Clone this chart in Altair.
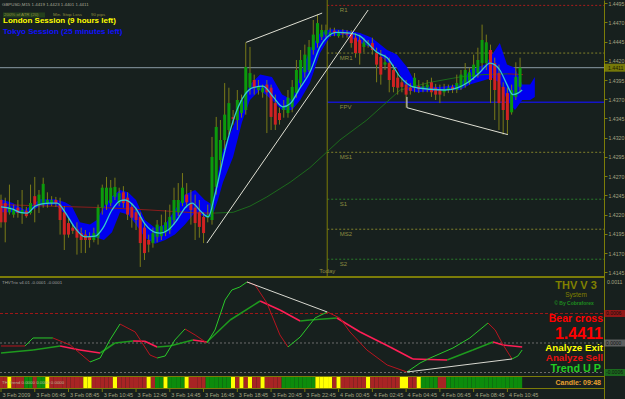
import altair as alt
import pandas as pd

# ---------------- GBPUSD M15 price bars ----------------
bar_open = [1.4239, 1.4235, 1.4223, 1.4220, 1.4229, 1.4221, 1.4225, 1.4222, 1.4244, 1.4233,
            1.4233, 1.4234, 1.4235, 1.4239, 1.4233, 1.4223, 1.4209, 1.4203, 1.4201, 1.4196,
            1.4194, 1.4192, 1.4187, 1.4190, 1.4229, 1.4233, 1.4235, 1.4243, 1.4235, 1.4249,
            1.4242, 1.4230, 1.4223, 1.4217, 1.4203, 1.4187, 1.4183, 1.4191, 1.4192, 1.4197,
            1.4200, 1.4213, 1.4223, 1.4235, 1.4246, 1.4235, 1.4229, 1.4223, 1.4217, 1.4216,
            1.4213, 1.4256, 1.4291, 1.4317, 1.4330, 1.4347, 1.4343, 1.4352, 1.4356, 1.4385,
            1.4395, 1.4382, 1.4379, 1.4389, 1.4385, 1.4365, 1.4352, 1.4356, 1.4352, 1.4360,
            1.4378, 1.4391, 1.4405, 1.4408, 1.4434, 1.4443, 1.4451, 1.4454, 1.4454, 1.4459,
            1.4452, 1.4457, 1.4456, 1.4456, 1.4450, 1.4447, 1.4438, 1.4441, 1.4443, 1.4430,
            1.4425, 1.4415, 1.4417, 1.4408, 1.4398, 1.4392, 1.4389, 1.4385, 1.4386, 1.4387,
            1.4385, 1.4385, 1.4392, 1.4385, 1.4382, 1.4379, 1.4382, 1.4386, 1.4382, 1.4385,
            1.4389, 1.4392, 1.4399, 1.4404, 1.4417, 1.4417, 1.4434, 1.4417, 1.4404, 1.4386,
            1.4378, 1.4353, 1.4373, 1.4386]
bar_close = [1.4210, 1.4210, 1.4230, 1.4226, 1.4222, 1.4226, 1.4218, 1.4235, 1.4233, 1.4246,
             1.4260, 1.4239, 1.4239, 1.4235, 1.4213, 1.4194, 1.4194, 1.4199, 1.4190, 1.4187,
             1.4187, 1.4187, 1.4196, 1.4229, 1.4255, 1.4255, 1.4255, 1.4256, 1.4248, 1.4235,
             1.4220, 1.4216, 1.4213, 1.4183, 1.4170, 1.4181, 1.4196, 1.4207, 1.4205, 1.4210,
             1.4217, 1.4239, 1.4239, 1.4255, 1.4236, 1.4226, 1.4209, 1.4204, 1.4196, 1.4220,
             1.4295, 1.4334, 1.4317, 1.4350, 1.4365, 1.4344, 1.4369, 1.4369, 1.4412, 1.4404,
             1.4385, 1.4386, 1.4385, 1.4379, 1.4347, 1.4337, 1.4343, 1.4360, 1.4372, 1.4386,
             1.4408, 1.4421, 1.4428, 1.4438, 1.4454, 1.4469, 1.4460, 1.4460, 1.4457, 1.4456,
             1.4456, 1.4455, 1.4454, 1.4443, 1.4430, 1.4430, 1.4444, 1.4443, 1.4434, 1.4415,
             1.4402, 1.4418, 1.4395, 1.4386, 1.4385, 1.4386, 1.4376, 1.4381, 1.4398, 1.4383,
             1.4387, 1.4389, 1.4379, 1.4376, 1.4376, 1.4383, 1.4385, 1.4382, 1.4391, 1.4402,
             1.4408, 1.4405, 1.4415, 1.4421, 1.4447, 1.4444, 1.4395, 1.4382, 1.4365, 1.4356,
             1.4343, 1.4382, 1.4399, 1.4411]
bar_high = [1.4246, 1.4242, 1.4259, 1.4233, 1.4239, 1.4252, 1.4230, 1.4259, 1.4269, 1.4252,
            1.4268, 1.4249, 1.4244, 1.4243, 1.4242, 1.4231, 1.4216, 1.4207, 1.4210, 1.4203,
            1.4200, 1.4197, 1.4203, 1.4233, 1.4259, 1.4269, 1.4265, 1.4268, 1.4255, 1.4257,
            1.4249, 1.4235, 1.4229, 1.4223, 1.4208, 1.4194, 1.4203, 1.4213, 1.4220, 1.4226,
            1.4233, 1.4255, 1.4261, 1.4274, 1.4261, 1.4252, 1.4246, 1.4239, 1.4223, 1.4233,
            1.4321, 1.4347, 1.4343, 1.4391, 1.4385, 1.4356, 1.4382, 1.4376, 1.4444, 1.4438,
            1.4402, 1.4395, 1.4389, 1.4395, 1.4389, 1.4376, 1.4359, 1.4369, 1.4382, 1.4395,
            1.4421, 1.4434, 1.4441, 1.4447, 1.4473, 1.4480, 1.4467, 1.4467, 1.4463, 1.4463,
            1.4460, 1.4461, 1.4460, 1.4460, 1.4456, 1.4454, 1.4450, 1.4447, 1.4450, 1.4437,
            1.4434, 1.4428, 1.4424, 1.4415, 1.4405, 1.4398, 1.4395, 1.4391, 1.4404, 1.4395,
            1.4392, 1.4395, 1.4398, 1.4390, 1.4389, 1.4390, 1.4389, 1.4389, 1.4402, 1.4408,
            1.4417, 1.4411, 1.4428, 1.4437, 1.4467, 1.4454, 1.4441, 1.4424, 1.4415, 1.4392,
            1.4385, 1.4389, 1.4418, 1.4424]
bar_low = [1.4203, 1.4184, 1.4220, 1.4216, 1.4216, 1.4208, 1.4216, 1.4220, 1.4210, 1.4222,
           1.4229, 1.4229, 1.4231, 1.4230, 1.4194, 1.4174, 1.4190, 1.4195, 1.4168, 1.4170,
           1.4170, 1.4177, 1.4184, 1.4181, 1.4220, 1.4226, 1.4231, 1.4239, 1.4231, 1.4229,
           1.4213, 1.4203, 1.4200, 1.4152, 1.4161, 1.4171, 1.4177, 1.4184, 1.4187, 1.4192,
           1.4195, 1.4207, 1.4218, 1.4231, 1.4229, 1.4207, 1.4187, 1.4190, 1.4183, 1.4210,
           1.4207, 1.4246, 1.4278, 1.4304, 1.4324, 1.4337, 1.4330, 1.4346, 1.4350, 1.4376,
           1.4376, 1.4376, 1.4372, 1.4326, 1.4330, 1.4330, 1.4337, 1.4346, 1.4346, 1.4353,
           1.4372, 1.4385, 1.4398, 1.4405, 1.4428, 1.4437, 1.4447, 1.4450, 1.4451, 1.4452,
           1.4450, 1.4450, 1.4450, 1.4437, 1.4424, 1.4415, 1.4431, 1.4437, 1.4428, 1.4392,
           1.4389, 1.4408, 1.4379, 1.4379, 1.4376, 1.4379, 1.4359, 1.4376, 1.4379, 1.4378,
           1.4379, 1.4379, 1.4373, 1.4369, 1.4365, 1.4374, 1.4378, 1.4378, 1.4378, 1.4382,
           1.4385, 1.4389, 1.4395, 1.4398, 1.4408, 1.4408, 1.4365, 1.4343, 1.4330, 1.4324,
           1.4324, 1.4350, 1.4369, 1.4379]

# cyan smoothed average (bar position, price)
cyan_pos = [0, 2.8, 4.5, 6.2, 8.1, 9.7, 11.6, 13.3, 15.2, 17.5, 19.9, 22.3, 24.2, 26.3, 28.2,
            29.4, 31.8, 34.1, 36.5, 37.7, 39.6, 41.7, 43.8, 45.3, 47.2, 49.1, 50.7, 53.1, 55.5,
            57.8, 59.7, 62.1, 64.5, 66.8, 68.5, 70.9, 73.2, 75.6, 77.3, 79.6, 82.7, 85.1, 86.7,
            89.1, 91.5, 94.6, 97.6, 101.7, 105.2, 108.3, 110.4, 113.5, 115.9, 118.2, 119.9,
            121.3, 122.5, 123.5]
cyan_price = [1.4230, 1.4227, 1.4223, 1.4222, 1.4231, 1.4234, 1.4235, 1.4235, 1.4223, 1.4203,
              1.4191, 1.4192, 1.4203, 1.4226, 1.4238, 1.4239, 1.4229, 1.4208, 1.4197, 1.4196,
              1.4200, 1.4213, 1.4230, 1.4235, 1.4225, 1.4217, 1.4246, 1.4304, 1.4350, 1.4376,
              1.4385, 1.4387, 1.4373, 1.4360, 1.4364, 1.4385, 1.4405, 1.4438, 1.4451, 1.4457,
              1.4456, 1.4452, 1.4444, 1.4431, 1.4424, 1.4399, 1.4386, 1.4383, 1.4382, 1.4385,
              1.4391, 1.4405, 1.4417, 1.4408, 1.4389, 1.4376, 1.4378, 1.4382]

# blue band (bar position, upper, lower)
band_pos = [0, 2.8, 5.7, 9.2, 12.8, 15.2, 16.8, 18.7, 21.1, 22.7, 24.4, 26.3, 28.2, 30.1, 32,
            34.1, 36.5, 38.9, 41.2, 43.6, 46, 48.3, 50, 51.4, 52.6, 55, 57.1, 59, 61.4, 64.2,
            66.6, 69, 70.9, 73.2, 75.6, 78, 81.5, 85.1, 87.9, 91.5, 93.8, 96.2, 98.6, 104,
            108.8, 111.1, 114.7, 116.4, 118.2, 119.9, 121.8, 123.5, 125.4, 126.5]
band_upper = [1.4240, 1.4235, 1.4226, 1.4240, 1.4240, 1.4236, 1.4231, 1.4210, 1.4207, 1.4213,
              1.4231, 1.4244, 1.4252, 1.4249, 1.4239, 1.4213, 1.4203, 1.4207, 1.4226, 1.4246,
              1.4252, 1.4239, 1.4233, 1.4272, 1.4304, 1.4334, 1.4363, 1.4389, 1.4402, 1.4399,
              1.4376, 1.4369, 1.4402, 1.4434, 1.4456, 1.4461, 1.4460, 1.4456, 1.4450, 1.4434,
              1.4428, 1.4412, 1.4387, 1.4386, 1.4389, 1.4408, 1.4415, 1.4428, 1.4443, 1.4415,
              1.4411, 1.4389, 1.4389, 1.4399]
band_lower = [1.4223, 1.4223, 1.4221, 1.4231, 1.4233, 1.4220, 1.4207, 1.4195, 1.4190, 1.4190,
              1.4187, 1.4197, 1.4223, 1.4220, 1.4207, 1.4190, 1.4182, 1.4187, 1.4194, 1.4207,
              1.4223, 1.4217, 1.4217, 1.4239, 1.4262, 1.4295, 1.4340, 1.4369, 1.4382, 1.4369,
              1.4356, 1.4356, 1.4369, 1.4391, 1.4430, 1.4452, 1.4454, 1.4443, 1.4437, 1.4418,
              1.4411, 1.4382, 1.4379, 1.4381, 1.4382, 1.4389, 1.4395, 1.4398, 1.4391, 1.4369,
              1.4356, 1.4369, 1.4369, 1.4373]

# long moving average (bar position, price)
long_ma_pos = [0, 11.6, 24.6, 35.3, 47.2, 50.7, 55, 59, 63, 68.5, 73.2, 80.3, 86.7, 94.6,
               101.7, 108.8, 114.2, 120.1, 123.7]
long_ma_price = [1.4233, 1.4231, 1.4229, 1.4226, 1.4222, 1.4222, 1.4223, 1.4231, 1.4243, 1.4262,
                 1.4281, 1.4317, 1.4343, 1.4382, 1.4392, 1.4399, 1.4402, 1.4403, 1.4402]

# daily pivots
pivot_names = ["R1", "MR1", "FPV", "MS1", "S1", "MS2", "S2"]
pivot_prices = [1.4492, 1.4430, 1.4366, 1.4301, 1.4240, 1.4201, 1.4162]
pivot_styles = ["red", "olive", "blue", "olive", "green", "olive", "green"]
today_pos = 77.3
pivot_label_pos = 80.3
current_price = 1.4411

# hand-drawn trend lines
trend_line_id = ["a", "a", "b", "b", "c", "c", "c"]
trend_line_pos = [58.1, 76.1, 48.8, 87.0, 96.2, 96.2, 120.1]
trend_line_price = [1.4444, 1.4482, 1.4183, 1.4486, 1.4373, 1.4359, 1.4324]

# THVTrix oscillator (units of 0.0001)
fast_pos = [0, 5.7, 7.6, 12.3, 16.4, 21.1, 23.5, 25.8, 28.2, 31.8, 35.3, 37, 38.9, 41.2, 43.6,
            46, 48.8, 50.7, 53.1, 54.7, 56.6, 58.3, 60.2, 63, 66.1, 68, 70.9, 74.4, 77.3, 80.3,
            82.7, 86.7, 91.5, 96.2, 99.3, 101.7, 107.1, 111.1, 115.4, 117.1, 119, 121.1, 122.5,
            123.5]
fast_val = [-0.61, -0.61, 1.02, 1.02, -0.41, -3.86, -3.05, 0.61, 3.86, 2.24, -2.44, -3.05,
            -2.64, 0.61, 2.85, 1.63, 0.0, 2.64, 8.75, 10.78, 11.39, 12.41, 11.80, 8.14, 1.63,
            -0.81, 1.22, 5.08, 6.31, 5.08, 2.24, -1.42, -4.47, -5.90, -4.07, -3.05, -1.02, 1.02,
            4.07, 2.64, -0.41, -3.25, -2.64, -1.42]
slow_pos = [0, 7.6, 14, 18.7, 23.5, 27, 31.3, 34.1, 37, 40, 45.5, 48.8, 54.3, 61.4, 66.1, 70.9,
            73.2, 79.6, 85.1, 92.2, 97.6, 105.7, 111.8, 116.6, 119, 123.5]
slow_val = [-2.03, -1.42, -0.61, -1.42, -2.03, 0.0, 0.41, 0.35, -0.81, -0.61, 0.61, 0.20, 4.68,
            8.54, 6.71, 4.47, 4.68, 5.08, 2.24, -0.81, -3.25, -3.46, -1.42, 0.20, -0.41, -0.81]
osc_levels = [6, 0, -6]
osc_level_labels = ["0.0006", "0.0000", "-0.0006"]
osc_line_id = ["a", "a", "b", "b"]
osc_line_pos = [58.3, 77.3, 96.2, 121.1]
osc_line_val = [12.41, 6.31, -5.90, -3.25]

# TH Trend strip: r = down, g = up, y = neutral
trend_codes = ("rryrrrggrggy" "rrrrrrrr" "yy" "rrrrr" "y" "rrrrrrr" "y" "r" "gg" "y" "gggg"
               "y" "rrrr" "gggggg" "y" "ryry" "rr" "y" "rrrr" "gggggggg" "yyyy" "r" "y"
               "rrrrrr" "y" "rrrrrrr" "yy" "rr" "y" "gggg" "rr" "gggggggggggggggggg")

time_labels = ["3 Feb 2009", "3 Feb 06:45", "3 Feb 08:45", "3 Feb 10:45", "3 Feb 12:45",
               "3 Feb 14:45", "3 Feb 16:45", "3 Feb 18:45", "3 Feb 20:45", "3 Feb 22:45",
               "4 Feb 00:45", "4 Feb 02:45", "4 Feb 04:45", "4 Feb 06:45", "4 Feb 08:45",
               "4 Feb 10:45"]
time_label_pos = [0, 8, 16, 24, 32, 40, 48, 56, 64, 72, 80, 88, 96, 104, 112, 120]
price_ticks = [1.4145, 1.4170, 1.4195, 1.4220, 1.4245, 1.4270, 1.4295, 1.4320, 1.4345,
               1.4370, 1.4395, 1.4420, 1.4445, 1.4470, 1.4495]

# ---------------- styling / layout ----------------
BG = "#17201e"
OLIVE = "#7c7c08"
AXIS_TXT = "#a4a482"
FONT = "Liberation Sans"
UP_BODY = "#0c9a0c"
DOWN_BODY = "#d02222"
WICK = "#7a7a18"

VIEW_W, VIEW_H = 604, 399
BAR_PX = 4.22
X_MIN = -1 / BAR_PX
X_MAX = (VIEW_W - 1) / BAR_PX
xs = alt.Scale(domain=[X_MIN, X_MAX], nice=False, zero=False)
ps = alt.Scale(domain=[1.39803, 1.4499], nice=False, zero=False)
oscs = alt.Scale(domain=[-11.39, 69.76], nice=False, zero=False)
PANEL_TOP, PANEL_BOTTOM = 1.4499, 1.4140


def X(f):
    return alt.X(f, type="quantitative", scale=xs, axis=None)


def YP(f):
    return alt.Y(f, type="quantitative", scale=ps, axis=None)


def YO(f):
    return alt.Y(f, type="quantitative", scale=oscs, axis=None)


def label(text, x, y, size, color, bold=False, align="left"):
    return alt.Chart(pd.DataFrame({"t": [text]})).mark_text(
        font=FONT, fontSize=size, fontWeight="bold" if bold else "normal",
        color=color, align=align, baseline="middle"
    ).encode(x=alt.value(x), y=alt.value(y), text="t:N")


def colored_segments(pos, val, up, down):
    rows = []
    prev = down
    for k in range(len(pos) - 1):
        if val[k + 1] > val[k]:
            c = up
        elif val[k + 1] < val[k]:
            c = down
        else:
            c = prev
        prev = c
        rows.append({"seg": k, "o": 0, "x": pos[k], "v": val[k], "c": c})
        rows.append({"seg": k, "o": 1, "x": pos[k + 1], "v": val[k + 1], "c": c})
    return pd.DataFrame(rows)


layers = []

# ---- main price panel ----
bars = pd.DataFrame({"i": list(range(len(bar_open))), "o": bar_open, "h": bar_high,
                     "l": bar_low, "c": bar_close})
bars["col"] = [UP_BODY if c >= o else DOWN_BODY for o, c in zip(bar_open, bar_close)]

price_axis = alt.Axis(orient="right", values=price_ticks, format=".4f", labelFont=FONT,
                      labelFontSize=5.2, labelColor=AXIS_TXT, tickColor=OLIVE, tickSize=3,
                      domainColor=OLIVE, labelPadding=1, grid=False, title="",
                      labelOverlap=False, labelFlush=False)

pivots = pd.DataFrame({"name": pivot_names, "price": pivot_prices, "style": pivot_styles})
pivots["x0"] = today_pos
pivots["x1"] = X_MAX
pivots["lx"] = pivot_label_pos
style_map = {"red": ("#a81c1c", [2, 2]), "olive": ("#80802a", [2, 2]),
             "green": ("#2a7a2a", [2, 2])}
for st, (colr, dash) in style_map.items():
    layers.append(alt.Chart(pivots[pivots["style"] == st]).mark_rule(
        color=colr, strokeWidth=1, strokeDash=dash).encode(x=X("x0"), x2="x1", y=YP("price")))
layers.append(alt.Chart(pivots[pivots["style"] == "blue"]).mark_rule(
    color="#1414c8", strokeWidth=1.5).encode(x=X("x0"), x2="x1", y=YP("price")))

cur = pd.DataFrame({"p": [current_price], "x0": [X_MIN], "x1": [X_MAX],
                    "t": ["%.4f" % current_price]})
layers.append(alt.Chart(cur).mark_rule(color="#8a9aa6", strokeWidth=1).encode(
    x=X("x0"), x2="x1", y=YP("p")))

today = pd.DataFrame({"x": [today_pos], "top": [PANEL_TOP], "bot": [PANEL_BOTTOM],
                      "t": ["Today"]})
layers.append(alt.Chart(today).mark_rule(color=OLIVE, strokeWidth=1).encode(
    x=X("x"), y=YP("top"), y2="bot"))

band = pd.DataFrame({"x": band_pos, "u": band_upper, "lo": band_lower})
layers.append(alt.Chart(band).mark_area(color="#0000f0", opacity=1).encode(
    x=X("x"), y=YP("u"), y2="lo"))

ma_df = colored_segments(long_ma_pos, long_ma_price, "#1c6a1c", "#8a1c1c")
layers.append(alt.Chart(ma_df).mark_line(strokeWidth=1).encode(
    x=X("x"), y=YP("v"), detail="seg:N", order="o:Q", color=alt.Color("c:N", scale=None)))

layers.append(alt.Chart(bars).mark_rule(color=WICK, strokeWidth=1).encode(
    x=X("i"), y=alt.Y("l", type="quantitative", scale=ps, axis=price_axis), y2="h"))
layers.append(alt.Chart(bars).mark_rule(strokeWidth=3).encode(
    x=X("i"), y=YP("o"), y2="c", color=alt.Color("col:N", scale=None)))

cyan = pd.DataFrame({"x": cyan_pos, "p": cyan_price})
layers.append(alt.Chart(cyan).mark_line(color="#33cccc", strokeWidth=1.3,
                                        interpolate="monotone").encode(x=X("x"), y=YP("p")))

tl = pd.DataFrame({"id": trend_line_id, "x": trend_line_pos, "p": trend_line_price,
                   "o": list(range(len(trend_line_id)))})
layers.append(alt.Chart(tl).mark_line(color="#e0e0d4", strokeWidth=1).encode(
    x=X("x"), y=YP("p"), detail="id:N", order="o:Q"))

layers.append(alt.Chart(pivots).mark_text(font=FONT, fontSize=6, color="#8c8c40",
                                          align="left", baseline="middle", dy=5).encode(
    x=X("lx"), y=YP("price"), text="name:N"))
layers.append(alt.Chart(today).mark_text(font=FONT, fontSize=6, color="#8c8c40",
                                         align="center", baseline="middle").encode(
    x=X("x"), y=alt.value(271), text="t:N"))

# current price box on the axis
layers.append(alt.Chart(cur).mark_tick(orient="horizontal", size=21, thickness=8,
                                       color="#a0a000").encode(
    x=alt.value(614.5), y=YP("p")))
layers.append(alt.Chart(cur).mark_text(font=FONT, fontSize=5.2, color="#1c1c00",
                                       align="left", baseline="middle").encode(
    x=alt.value(608), y=YP("p"), text="t:N"))

# ---- oscillator panel ----
lv = pd.DataFrame({"v": osc_levels, "x0": X_MIN, "x1": X_MAX, "t": osc_level_labels,
                   "box": ["#c81414", "#7c7c7c", "#1e8c1e"]})
layers.append(alt.Chart(lv.iloc[[0]]).mark_rule(color="#a01818", strokeDash=[3, 2]).encode(
    x=X("x0"), x2="x1", y=YO("v")))
layers.append(alt.Chart(lv.iloc[[1, 2]]).mark_rule(color="#6c6c6c", strokeDash=[2, 2]).encode(
    x=X("x0"), x2="x1", y=YO("v")))

slow_df = colored_segments(slow_pos, slow_val, "#1e9a1e", "#ff1e56")
layers.append(alt.Chart(slow_df).mark_line(strokeWidth=1.6).encode(
    x=X("x"), y=YO("v"), detail="seg:N", order="o:Q", color=alt.Color("c:N", scale=None)))
fast_df = colored_segments(fast_pos, fast_val, "#2ac82a", "#b8141e")
layers.append(alt.Chart(fast_df).mark_line(strokeWidth=1).encode(
    x=X("x"), y=YO("v"), detail="seg:N", order="o:Q", color=alt.Color("c:N", scale=None)))

ol = pd.DataFrame({"id": osc_line_id, "x": osc_line_pos, "v": osc_line_val,
                   "o": list(range(len(osc_line_id)))})
layers.append(alt.Chart(ol).mark_line(color="#d8d8d0", strokeWidth=1).encode(
    x=X("x"), y=YO("v"), detail="id:N", order="o:Q"))

layers.append(alt.Chart(lv).mark_tick(orient="horizontal", size=21, thickness=7).encode(
    x=alt.value(614.5), y=YO("v"), color=alt.Color("box:N", scale=None)))
layers.append(alt.Chart(lv).mark_text(font=FONT, fontSize=5, color="#101010",
                                      align="left", baseline="middle").encode(
    x=alt.value(606), y=YO("v"), text="t:N"))
layers.append(label("0.0011", 607, 282, 5.2, AXIS_TXT))

# ---- trend strip ----
tcol = {"r": "#a82424", "g": "#0c8c0c", "y": "#ffff00"}
strip = pd.DataFrame({"i": list(range(len(trend_codes))),
                      "c": [tcol[k] for k in trend_codes]})
strip["x0"] = strip["i"] - 0.5
strip["x1"] = strip["i"] + 0.5
layers.append(alt.Chart(strip).mark_rect(strokeWidth=0).encode(
    x=X("x0"), x2="x1", y=alt.value(377), y2=alt.value(388),
    color=alt.Color("c:N", scale=None)))

# ---- frame ----
for yy, w in [(277, 2), (376.5, 1), (388.5, 1)]:
    layers.append(alt.Chart(pd.DataFrame({"a": [0]})).mark_rule(
        color=OLIVE, strokeWidth=w).encode(x=alt.value(0), x2=alt.value(VIEW_W),
                                           y=alt.value(yy)))

# ---- time axis ----
tdf = pd.DataFrame({"x": time_label_pos, "t": time_labels})
layers.append(alt.Chart(tdf).mark_rule(color=OLIVE).encode(
    x=X("x"), y=alt.value(389), y2=alt.value(392)))
layers.append(alt.Chart(tdf).mark_text(font=FONT, fontSize=5.5, color=AXIS_TXT,
                                       align="left", baseline="middle", dx=1.5).encode(
    x=X("x"), y=alt.value(394.5), text="t:N"))

# ---- texts ----
layers.append(alt.Chart(pd.DataFrame({"a": [0]})).mark_rect(color="#24401c").encode(
    x=alt.value(3), x2=alt.value(45), y=alt.value(12.5), y2=alt.value(17.5)))
layers += [
    label("GBPUSD,M15  1.4419 1.4423 1.4401 1.4411", 2, 4.5, 4.4, "#a8a898"),
    label("200% of ATR (20)", 4, 15, 4.4, "#8c8c3c"),
    label("Min. Stop Loss", 53, 15, 4.4, "#8c8c3c"),
    label("90 pips", 91, 15, 4.4, "#8c8c3c"),
    label("London Session (9 hours left)", 3, 20.5, 8, "#ffff00", bold=True),
    label("Tokyo Session (25 minutes left)", 3, 32, 8, "#1010ff", bold=True),
    label("THVTrix v4.01 -0.0001 -0.0001", 2, 283, 4.4, "#a0a0a0"),
    label("TH Trend  0.0000 0.0000 0.0000", 2, 382.5, 4.4, "#b8b898"),
    label("THV V 3", 576, 286, 11, "#808000", bold=True, align="center"),
    label("System", 576, 295, 6.5, "#808000", align="center"),
    label("\u00a9 By Cobraforex", 574, 303, 5, "#1e8c1e", bold=True, align="center"),
    label("Bear cross", 603, 319, 10.5, "#ff0000", bold=True, align="right"),
    label("%.4f" % current_price, 603, 333.5, 16, "#ff0000", bold=True, align="right"),
    label("Analyze Exit", 603, 348, 9.8, "#ffff00", bold=True, align="right"),
    label("Analyze Sell", 603, 358, 9.8, "#e81010", bold=True, align="right"),
    label("Trend U P", 601, 369, 10.8, "#22cc22", bold=True, align="right"),
    label("Candle:  09:48", 601, 383, 7, "#e8a030", bold=True, align="right"),
]

chart = alt.layer(*layers).resolve_scale(y="independent").properties(
    width=VIEW_W, height=VIEW_H,
    padding={"left": 0, "top": 0, "right": 21, "bottom": 0},
    autosize=alt.AutoSizeParams(type="none"),
    background=BG,
).configure_view(strokeWidth=0)

chart.save("out.html", embed_options={"renderer": "svg", "actions": False})
